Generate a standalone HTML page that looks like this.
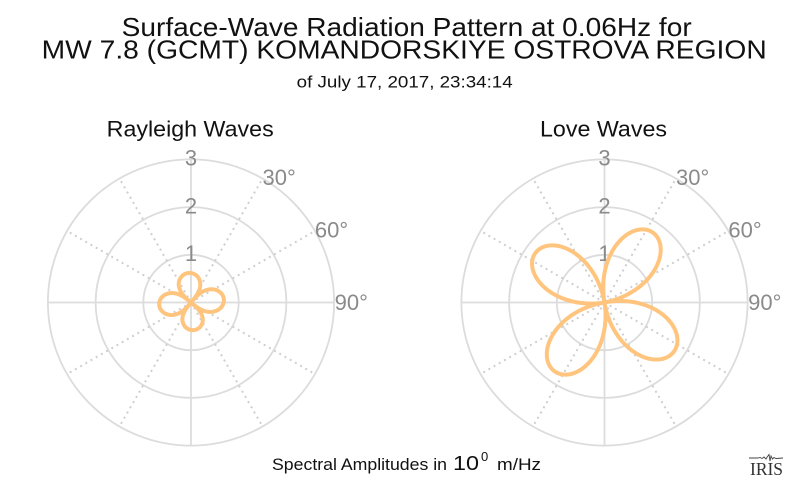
<!DOCTYPE html>
<html>
<head>
<meta charset="utf-8">
<style>
  html, body { margin: 0; padding: 0; background: #ffffff; }
  svg { display: block; }
  text { font-family: "Liberation Sans", Arial, sans-serif; }
</style>
</head>
<body>
<svg id="chart" width="800" height="493" viewBox="0 0 800 493" xmlns="http://www.w3.org/2000/svg">
  <rect x="0" y="0" width="800" height="493" fill="#ffffff"/>

  <!-- Titles -->
  <text x="121.7" y="36" font-size="26" fill="#111" textLength="570" lengthAdjust="spacingAndGlyphs">Surface-Wave Radiation Pattern at 0.06Hz for</text>
  <text x="41.7" y="58.5" font-size="26" fill="#111" textLength="725" lengthAdjust="spacingAndGlyphs">MW 7.8 (GCMT) KOMANDORSKIYE OSTROVA REGION</text>
  <text x="296.7" y="87.5" font-size="17" fill="#111" textLength="216" lengthAdjust="spacingAndGlyphs">of July 17, 2017, 23:34:14</text>

  <text x="106.7" y="136.5" font-size="22" fill="#111" textLength="167" lengthAdjust="spacingAndGlyphs">Rayleigh Waves</text>
  <text x="540" y="136.5" font-size="22" fill="#111" textLength="127" lengthAdjust="spacingAndGlyphs">Love Waves</text>

  <g id="grid-left"></g>
  <g id="grid-right"></g>

  <path id="rayleigh" d="" fill="none" stroke="#ffc57f" stroke-width="4" stroke-linejoin="round"/>
  <path id="love" d="" fill="none" stroke="#ffc57f" stroke-width="4" stroke-linejoin="round"/>

  <!-- Bottom label -->
  <text x="272" y="470" font-size="17" fill="#111" textLength="175" lengthAdjust="spacingAndGlyphs">Spectral Amplitudes in</text>
  <text x="453" y="470" font-size="20" fill="#111" textLength="26" lengthAdjust="spacingAndGlyphs">10</text>
  <text x="481" y="461" font-size="13" fill="#111">0</text>
  <text x="497" y="470" font-size="17" fill="#111" textLength="44" lengthAdjust="spacingAndGlyphs">m/Hz</text>

  <!-- IRIS logo -->
  <path d="M749,458 L758,458 L760,457.5 L762,458.5 L764,457 L766,459 L767.5,456.5 L769,454.5 L770,461 L771,456 L772.5,459 L774,457.5 L776,458.5 L783,458" fill="none" stroke="#444" stroke-width="0.9"/>
  <text x="750" y="475" font-size="18" fill="#333" textLength="33" lengthAdjust="spacingAndGlyphs" style="font-family:'Liberation Serif', serif;">IRIS</text>
</svg>

<script>
(function(){
  var NS = "http://www.w3.org/2000/svg";
  var U = 47.7, CY = 302.5;
  function el(tag, attrs, parent, txt){
    var e = document.createElementNS(NS, tag);
    for (var k in attrs) e.setAttribute(k, attrs[k]);
    if (txt !== undefined) e.textContent = txt;
    parent.appendChild(e);
    return e;
  }
  function grid(id, cx){
    var g = document.getElementById(id);
    var R = 3*U;
    for (var k=1;k<=3;k++){
      el("circle",{cx:cx,cy:CY,r:k*U,fill:"none",stroke:"#dcdcdc","stroke-width":1.8},g);
    }
    [30,60,120,150,210,240,300,330].forEach(function(a){
      var t=a*Math.PI/180;
      el("line",{x1:cx,y1:CY,x2:cx+R*Math.sin(t),y2:CY-R*Math.cos(t),stroke:"#cfcfcf","stroke-width":2,"stroke-dasharray":"2,4"},g);
    });
    el("line",{x1:cx,y1:CY-R,x2:cx,y2:CY+R,stroke:"#dcdcdc","stroke-width":1.8},g);
    el("line",{x1:cx-R,y1:CY,x2:cx+R,y2:CY,stroke:"#dcdcdc","stroke-width":1.8},g);
    for (var k=1;k<=3;k++){
      el("text",{x:cx,y:CY-k*U+6.3,"font-size":22,fill:"#8a8a8a","text-anchor":"middle"},g,String(k));
    }
    el("text",{x:cx+R*0.5,y:CY-R*0.866+6.4,"font-size":22,fill:"#8a8a8a"},g,"30\u00b0");
    el("text",{x:cx+R*0.866,y:CY-R*0.5+6.4,"font-size":22,fill:"#8a8a8a"},g,"60\u00b0");
    el("text",{x:cx+R+0.5,y:CY+7.5,"font-size":22,fill:"#8a8a8a"},g,"90\u00b0");
  }
  grid("grid-left",191);
  grid("grid-right",604.5);

  function polar(cx, f){
    var d="";
    for (var i=0;i<=1440;i++){
      var th=i/4;
      var r=f(th);
      var t=th*Math.PI/180;
      var x=cx+r*Math.sin(t), y=CY-r*Math.cos(t);
      d+=(i?"L":"M")+x.toFixed(2)+","+y.toFixed(2);
    }
    return d+"Z";
  }
  document.getElementById("rayleigh").setAttribute("d", polar(191, function(th){
    var p=(th+5)*Math.PI/180;
    var c2=Math.cos(2*p);
    return Math.pow(Math.abs(c2),0.5)*(30.55-1.9*c2+0.95*Math.cos(p)+0.55*Math.sin(p));
  }));
  var N=[-10,79,171,261,350];
  document.getElementById("love").setAttribute("d", polar(604.5, function(th){
    var a=th; while(a<-10) a+=360; while(a>=350) a-=360;
    for (var i=0;i<4;i++){
      if (a>=N[i] && a<N[i+1]){
        return 85*Math.sin(Math.PI*(a-N[i])/(N[i+1]-N[i]));
      }
    }
    return 0;
  }));
})();
</script>
</body>
</html>
